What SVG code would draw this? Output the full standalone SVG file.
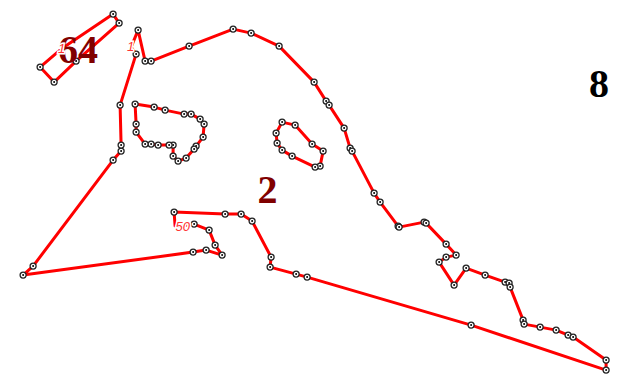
<svg xmlns="http://www.w3.org/2000/svg" width="619" height="382" viewBox="0 0 619 382">
<style>
.r{fill:none;stroke:#f00;stroke-width:3;stroke-linejoin:round;stroke-linecap:round}
.b{font-family:"Liberation Serif",serif;font-weight:bold;font-size:40px;fill:#800000}
.l{font-family:"Liberation Sans",sans-serif;font-style:italic;font-size:13px;fill:#f33;stroke:#fff;stroke-width:3;paint-order:stroke}
</style>
<defs>
<g id="p"><circle r="3" fill="#fff" stroke="#222" stroke-width="1.3"/><circle r="1" fill="#000"/></g>
</defs>
<rect width="619" height="382" fill="#fff"/>
<g transform="translate(0.1 0.1)">
<g id="connectors">
<polygon class="r" points="113,14 119,23 76,61 54,82 40,67 61,49"/>
<polygon class="r" points="135,104 154,107 165,110 184,114 191,114 200,119 204,124 203,137 196,146 194,149 186,158 178,161 173,156 173,145 169,145 158,145 151,144 145,144 136,132 136,124"/>
<polygon class="r" points="282,122 295,125 312,144 323,151 320,166 315,167 292,156 282,150 277,143 276,133"/>
<polygon class="r" points="138,30 145,61 151,61 189,46 233,29 251,33 279,46 314,82 326,101 329,105 344,128 350,148 352,151 374,193 380,202 398,226 399,227 424,222 426,223 446,244 456,255 446,257 439,262 454,285 466,268 485,275 505,282 509,283 510,287 523,320 524,324 540,327 556,330 568,335 573,337 606,360 606,370 471,325 307,277 296,274 270,267 271,257 252,221 241,214 225,214 174,212 175,226 182,226 194,224 209,230 215,245 222,255 206,250 193,252 23,275 33,266 113,160 121,151 121,145 120,105 136,54 131,47"/>
</g>
<g id="ring-1">
<use href="#p" x="113" y="14"/><use href="#p" x="119" y="23"/><use href="#p" x="76" y="61"/><use href="#p" x="54" y="82"/><use href="#p" x="40" y="67"/>
</g>
<g id="ring-2">
<use href="#p" x="135" y="104"/><use href="#p" x="154" y="107"/><use href="#p" x="165" y="110"/><use href="#p" x="184" y="114"/><use href="#p" x="191" y="114"/><use href="#p" x="200" y="119"/><use href="#p" x="204" y="124"/><use href="#p" x="203" y="137"/><use href="#p" x="196" y="146"/><use href="#p" x="194" y="149"/><use href="#p" x="186" y="158"/><use href="#p" x="178" y="161"/><use href="#p" x="173" y="156"/><use href="#p" x="173" y="145"/><use href="#p" x="169" y="145"/><use href="#p" x="158" y="145"/><use href="#p" x="151" y="144"/><use href="#p" x="145" y="144"/><use href="#p" x="136" y="132"/><use href="#p" x="136" y="124"/>
</g>
<g id="ring-3">
<use href="#p" x="282" y="122"/><use href="#p" x="295" y="125"/><use href="#p" x="312" y="144"/><use href="#p" x="323" y="151"/><use href="#p" x="320" y="166"/><use href="#p" x="315" y="167"/><use href="#p" x="292" y="156"/><use href="#p" x="282" y="150"/><use href="#p" x="277" y="143"/><use href="#p" x="276" y="133"/>
</g>
<g id="ring-main">
<use href="#p" x="138" y="30"/><use href="#p" x="145" y="61"/><use href="#p" x="151" y="61"/><use href="#p" x="189" y="46"/><use href="#p" x="233" y="29"/><use href="#p" x="251" y="33"/><use href="#p" x="279" y="46"/><use href="#p" x="314" y="82"/><use href="#p" x="326" y="101"/><use href="#p" x="329" y="105"/><use href="#p" x="344" y="128"/><use href="#p" x="350" y="148"/><use href="#p" x="352" y="151"/><use href="#p" x="374" y="193"/><use href="#p" x="380" y="202"/><use href="#p" x="398" y="226"/><use href="#p" x="399" y="227"/><use href="#p" x="424" y="222"/><use href="#p" x="426" y="223"/><use href="#p" x="446" y="244"/><use href="#p" x="456" y="255"/><use href="#p" x="446" y="257"/><use href="#p" x="439" y="262"/><use href="#p" x="454" y="285"/><use href="#p" x="466" y="268"/><use href="#p" x="485" y="275"/><use href="#p" x="505" y="282"/><use href="#p" x="509" y="283"/><use href="#p" x="510" y="287"/><use href="#p" x="523" y="320"/><use href="#p" x="524" y="324"/><use href="#p" x="540" y="327"/><use href="#p" x="556" y="330"/><use href="#p" x="568" y="335"/><use href="#p" x="573" y="337"/><use href="#p" x="606" y="360"/><use href="#p" x="606" y="370"/><use href="#p" x="471" y="325"/><use href="#p" x="307" y="277"/><use href="#p" x="296" y="274"/><use href="#p" x="270" y="267"/><use href="#p" x="271" y="257"/><use href="#p" x="252" y="221"/><use href="#p" x="241" y="214"/><use href="#p" x="225" y="214"/><use href="#p" x="174" y="212"/><use href="#p" x="194" y="224"/><use href="#p" x="209" y="230"/><use href="#p" x="215" y="245"/><use href="#p" x="222" y="255"/><use href="#p" x="206" y="250"/><use href="#p" x="193" y="252"/><use href="#p" x="23" y="275"/><use href="#p" x="33" y="266"/><use href="#p" x="113" y="160"/><use href="#p" x="121" y="151"/><use href="#p" x="121" y="145"/><use href="#p" x="120" y="105"/><use href="#p" x="136" y="54"/>
</g>
</g>
<g id="labels">
<text class="b" x="58" y="63">64</text>
<text class="b" x="257.500" y="203">2</text>
<text class="b" x="589" y="97" style="fill:#000">8</text>
<text class="l" x="58" y="53">1</text>
<text class="l" x="127" y="51">1</text>
<text class="l" x="175.500" y="231">50</text>
</g>
</svg>
